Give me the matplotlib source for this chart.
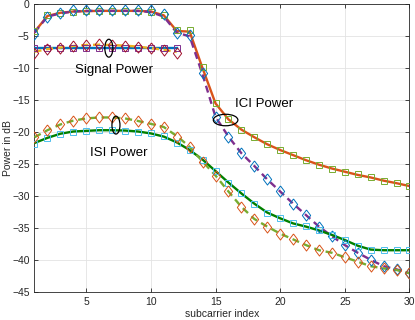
import matplotlib
matplotlib.use("Agg")
import matplotlib.pyplot as plt
from matplotlib.patches import Ellipse
import numpy as np

plt.rcParams['font.family'] = ['Liberation Sans', 'DejaVu Sans']

x = list(range(1, 31))
x_sig = list(range(1, 13))

# upper curve (signal + ICI), theory and simulation
upper_theory = [-4.3, -1.8, -1.3, -1.1, -1.05, -1.0, -1.0, -1.0, -1.0, -1.1, -1.7, -4.15,
                -4.25, -10.0, -15.5, -18.0, -19.6, -20.8, -21.9, -22.8, -23.6, -24.4, -25.1,
                -25.7, -26.2, -26.7, -27.1, -27.6, -28.0, -28.45]
upper_sim = [-4.1, -1.65, -1.3, -1.1, -1.05, -1.0, -1.0, -1.0, -1.0, -1.1, -1.65, -4.0,
             -4.0, -9.8, -15.5, -18.0, -19.6, -20.8, -21.9, -22.8, -23.6, -24.4, -25.2,
             -25.7, -26.2, -26.6, -27.1, -27.6, -28.0, -28.45]
upper2_theory = [-4.4, -1.9, -1.4, -1.1, -1.0, -1.0, -1.0, -1.0, -1.0, -1.2, -1.9, -4.4,
                 -5.0, -11.0, -17.6, -20.7, -23.3, -25.3, -27.4, -29.3, -31.2, -33.0, -34.8,
                 -36.3, -37.7, -38.9, -40.0, -41.0, -41.5, -42.1]
upper2_sim = [-4.6, -1.9, -1.3, -0.9, -0.8, -0.8, -0.8, -0.8, -0.8, -0.9, -1.5, -4.5,
              -4.8, -10.8, -17.6, -20.7, -23.3, -25.3, -27.4, -29.3, -31.2, -33.0, -34.8,
              -36.3, -37.7, -38.9, -40.0, -41.0, -41.5, -42.1]

# lower signal power (subcarriers 1..12)
sig_theory = [-6.75] * 12
sig_sim = [-6.75] * 12
sig2_theory = [-7.4, -7.0, -6.75, -6.5, -6.35, -6.3, -6.35, -6.45, -6.6, -6.85, -7.1, -7.45]
sig2_sim = [-7.55, -7.0, -6.77, -6.5, -6.35, -6.25, -6.35, -6.45, -6.6, -6.87, -7.1, -7.65]

# ISI power
isi_theory = [-21.7, -20.9, -20.25, -19.9, -19.8, -19.7, -19.7, -19.75, -19.9, -20.2, -20.7,
              -21.6, -22.8, -24.3, -26.1, -27.9, -29.6, -31.2, -32.6, -33.5, -34.3, -34.8,
              -35.4, -36.1, -36.9, -37.8, -38.4, -38.5, -38.5, -38.5]
isi_sim = [-21.9, -20.9, -20.25, -19.9, -19.8, -19.67, -19.67, -19.75, -19.9, -20.2, -20.6,
           -21.75, -22.8, -24.3, -26.1, -27.9, -29.6, -31.2, -32.6, -33.5, -34.3, -34.7,
           -35.3, -36.1, -36.9, -37.9, -38.4, -38.4, -38.4, -38.4]
isi2_theory = [-20.8, -19.7, -18.8, -18.2, -17.85, -17.7, -17.7, -17.85, -18.25, -18.7, -19.2,
               -20.6, -22.3, -24.6, -26.8, -29.3, -31.7, -33.6, -34.8, -35.9, -36.8, -37.7,
               -38.5, -38.9, -39.6, -40.3, -41.0, -41.35, -41.6, -42.1]
isi2_sim = [-20.7, -19.67, -18.8, -18.2, -17.85, -17.7, -17.7, -17.85, -18.26, -18.7, -19.15,
            -20.7, -22.3, -24.6, -26.8, -29.3, -31.7, -33.6, -34.8, -35.9, -36.8, -37.7,
            -38.5, -38.9, -39.6, -40.3, -41.0, -41.35, -41.6, -42.1]

xticks = [5, 10, 15, 20, 25, 30]
yticks = [0, -5, -10, -15, -20, -25, -30, -35, -40, -45]

C_BLUE = '#0072BD'
C_ORANGE = '#D95319'
C_YELLOW = '#EDB120'
C_PURPLE = '#7E2F8E'
C_GREEN = '#77AC30'
C_LBLUE = '#4DBEEE'
C_RED = '#A2142F'
C_DGREEN = '#008000'

diamond = [(0, 1), (0.75, 0), (0, -1), (-0.75, 0), (0, 1)]

fig = plt.figure(figsize=(4.15, 3.2), dpi=100)
ax = fig.add_axes([0.0831, 0.0884, 0.9036, 0.8976])

# lines
ax.plot(x, upper_theory, '-', color=C_ORANGE, lw=1.7, zorder=3)
ax.plot(x, upper2_theory, '--', color=C_PURPLE, lw=1.7, dashes=(3, 2), zorder=3)
ax.plot(x_sig, sig_theory, '-', color=C_BLUE, lw=1.7, zorder=3)
ax.plot(x_sig, sig2_theory, '--', color=C_YELLOW, lw=1.7, dashes=(3, 2), zorder=3)
ax.plot(x, isi_theory, '-', color=C_DGREEN, lw=1.7, zorder=3)
ax.plot(x, isi2_theory, '--', color=C_GREEN, lw=1.7, dashes=(3, 2), zorder=3)

# markers
mk = dict(ls='none', mfc='none', mew=0.7, zorder=4)
ax.plot(x, upper_sim, marker='s', ms=5, mec=C_GREEN, **mk)
ax.plot(x, upper2_sim, marker=diamond, ms=8, mec=C_BLUE, **mk)
ax.plot(x_sig, sig_sim, marker='s', ms=5, mec=C_PURPLE, **mk)
ax.plot(x_sig, sig2_sim, marker=diamond, ms=8, mec=C_RED, **mk)
ax.plot(x, isi_sim, marker='s', ms=5, mec=C_LBLUE, **mk)
ax.plot(x, isi2_sim, marker=diamond, ms=8, mec=C_ORANGE, **mk)

# annotations
ax.add_patch(Ellipse((6.75, -6.85), 0.62, 2.8, fill=False, ec='black', lw=0.9, zorder=5))
ax.text(7.15, -10.3, 'Signal Power', fontsize=9.5, ha='center', va='center', zorder=6)
ax.add_patch(Ellipse((7.3, -18.9), 0.62, 2.8, fill=False, ec='black', lw=0.9, zorder=5))
ax.text(7.5, -23.2, 'ISI Power', fontsize=9.5, ha='center', va='center', zorder=6)
ax.add_patch(Ellipse((15.78, -18.1), 1.9, 1.8, fill=False, ec='black', lw=0.9, zorder=5))
ax.text(18.73, -15.65, 'ICI Power', fontsize=9.5, ha='center', va='center', zorder=6)

ax.set_xlim(1, 30)
ax.set_ylim(-45, 0)
ax.set_xticks(xticks)
ax.set_yticks(yticks)
ax.grid(True, color='#e3e3e3', lw=0.6)
ax.set_axisbelow(True)
ax.tick_params(direction='in', top=True, right=True, labelsize=7.5, length=3,
               width=0.6, color='#262626', labelcolor='#262626')
for s in ax.spines.values():
    s.set_linewidth(0.6)
    s.set_color('#262626')
ax.set_xlabel('subcarrier index', fontsize=7.5, color='#262626', labelpad=2)
ax.set_ylabel('Power in dB', fontsize=7.5, color='#262626', va='center')
ax.yaxis.set_label_coords(-0.071, 0.5)

fig.savefig('out.png', dpi=100)
